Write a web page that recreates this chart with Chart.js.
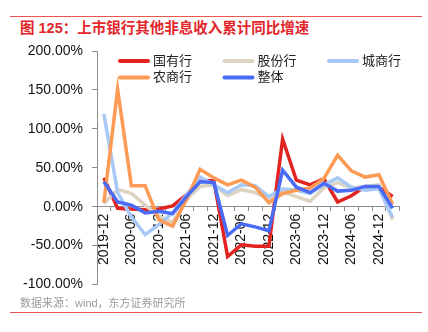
<!DOCTYPE html>
<html>
<head>
<meta charset="utf-8">
<script src="https://cdn.jsdelivr.net/npm/chart.js@4/dist/chart.umd.min.js"></script>
<style>
html,body{margin:0;padding:0;background:#fff;}
#wrap{position:relative;width:428px;height:332px;overflow:hidden;font-family:"Liberation Sans","Noto Sans CJK SC",sans-serif;}
#topline{position:absolute;left:10px;top:16px;width:412px;height:1px;background:#e8564f;}
#botline{position:absolute;left:10px;top:312px;width:412px;height:1px;background:#e8564f;}
#title{position:absolute;left:20px;top:19px;font-size:14.5px;font-weight:bold;color:#e3262b;line-height:18px;white-space:nowrap;}
#source{position:absolute;left:20px;top:296px;font-size:11px;color:#9a9a9a;line-height:14px;white-space:nowrap;}
canvas{position:absolute;left:0;top:0;}
</style>
</head>
<body>
<div id="wrap">
  <div id="topline"></div>
  <div id="title">图 125：上市银行其他非息收入累计同比增速</div>
  <canvas id="c" width="428" height="332"></canvas>
  <div id="source">数据来源：wind，东方证券研究所</div>
  <div id="botline"></div>
</div>
<script>
const categories = ['2019-12','2020-03','2020-06','2020-09','2020-12','2021-03','2021-06','2021-09','2021-12','2022-03','2022-06','2022-09','2022-12','2023-03','2023-06','2023-09','2023-12','2024-03','2024-06','2024-09','2024-12','2025-03'];
const seriesNames = ['国有行','股份行','城商行','农商行','整体'];
const stateOwned = [37, -2, -3, -4, -3, 1, 15, 34, 33, -64, -49, -51, -51, 87, 34, 28, 36, 6, 14, 26, 25, 13];
const jointStock = [4, 22, 17, 2, -12, -20, 9, 26, 28, 14, 22, 18, 10, 19, 13, 7, 24, 31, 24, 26, 28, -17];
const cityBanks = [119, 18, -13, -36, -23, -8, 15, 38, 28, 18, 28, 27, 13, 23, 21, 17, 28, 37, 25, 21, 23, -14];
const ruralBanks = [5, 151, 27, 27, -17, -25, 9, 48, 37, 28, 34, 25, 5, 17, 21, 24, 36, 66, 46, 38, 41, 3];
const overall = [32, 6, 2, -8, -6, -9, 13, 32, 31, -37, -22, -26, -31, 47, 25, 18, 30, 20, 21, 26, 26, -2];
const yMin = -100, yMax = 200, yStep = 50;

const colors = ['#e2231f', '#dcd3c0', '#a8c9f7', '#fd9a56', '#4a6bf5'];
const seriesData = [stateOwned, jointStock, cityBanks, ruralBanks, overall];
const FONT = '"Liberation Sans","Noto Sans CJK SC",sans-serif';

const datasets = seriesData.map((d, i) => ({
  label: seriesNames[i],
  data: d,
  borderColor: colors[i],
  backgroundColor: colors[i],
  borderWidth: 3.5,
  pointRadius: 0,
  tension: 0,
  fill: false,
  order: seriesData.length - i
}));

const legendPlugin = {
  id: 'gridLegend',
  afterDraw(chart) {
    const ctx = chart.ctx;
    ctx.save();
    chart.data.datasets.forEach((ds, i) => {
      const col = i % 3, row = Math.floor(i / 3);
      const x = 118 + col * 104.5, y = 61 + row * 16.5;
      ctx.strokeStyle = ds.borderColor;
      ctx.lineWidth = 4;
      ctx.lineCap = 'round';
      ctx.beginPath();
      ctx.moveTo(x + 2, y);
      ctx.lineTo(x + 30, y);
      ctx.stroke();
      ctx.fillStyle = '#222';
      ctx.font = '13px ' + FONT;
      ctx.textBaseline = 'middle';
      ctx.textAlign = 'left';
      ctx.fillText(ds.label, x + 35, y);
    });
    ctx.restore();
  }
};

new Chart(document.getElementById('c'), {
  type: 'line',
  data: { labels: categories, datasets: datasets },
  options: {
    responsive: false,
    animation: false,
    devicePixelRatio: 1,
    layout: { padding: { top: 51, right: 28.5, bottom: 47.5, left: 0 } },
    plugins: { legend: { display: false }, tooltip: { enabled: false }, title: { display: false } },
    scales: {
      x: {
        type: 'category',
        position: { y: 0 },
        offset: true,
        grid: { offset: true, drawOnChartArea: false, tickLength: 4, color: '#8c8c8c' },
        border: { display: true, color: '#8c8c8c', width: 1 },
        ticks: {
          autoSkip: false, minRotation: 90, maxRotation: 90, padding: 3,
          color: '#111', font: { size: 14, family: FONT },
          callback: function(v, i) { return i % 2 === 0 ? categories[i] : ''; }
        }
      },
      y: {
        min: yMin, max: yMax,
        grid: { drawOnChartArea: false, tickLength: 5, color: '#8c8c8c' },
        border: { display: true, color: '#8c8c8c', width: 1 },
        ticks: {
          stepSize: yStep, padding: 9, color: '#111', font: { size: 14, family: FONT },
          callback: v => v.toFixed(2) + '%'
        },
        afterFit(s) { s.width = 97; }
      }
    }
  },
  plugins: [legendPlugin]
});
</script>
</body>
</html>
